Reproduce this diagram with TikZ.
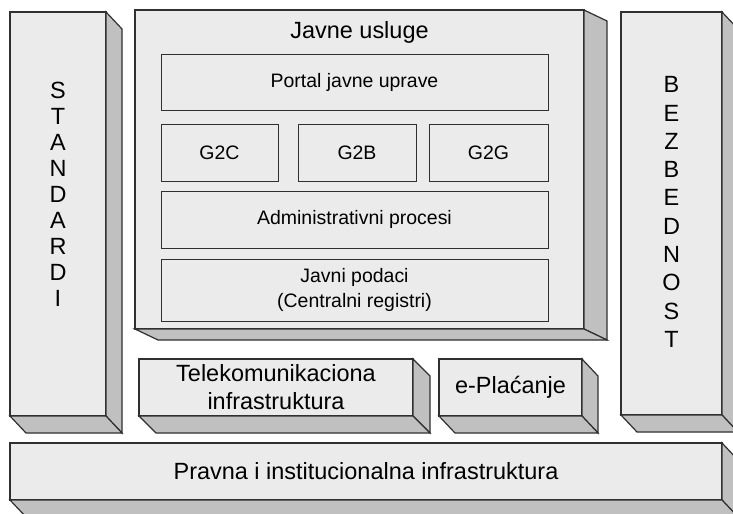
\documentclass[tikz,border=0pt]{standalone}
\usepackage{fontspec}
\setmainfont{Liberation Sans}
\usetikzlibrary{calc}
\definecolor{facecol}{HTML}{EBEBEB}
\definecolor{sidecol}{HTML}{C0C0C0}
\definecolor{edgecol}{HTML}{303030}
\tikzset{
  front/.style={draw=edgecol, fill=facecol, line width=0.9pt, inner sep=0pt, outer sep=0pt, anchor=north west, align=center},
  inner/.style={draw=edgecol, fill=facecol, line width=0.75pt, inner sep=0pt, outer sep=0pt, anchor=north west, align=center, font=\fontsize{14.6}{18}\selectfont},
  side/.style={draw=edgecol, fill=sidecol, line width=0.9pt, line join=miter},
  big/.style={font=\fontsize{17.6}{21}\selectfont},
}
% right and bottom faces of a block, extruded by (dx,dy)
\newcommand{\extrude}[3]{%
  \filldraw[side] (#1.north east) -- ++(#2,#3) -- ($(#1.south east)+(#2,#3)$) -- (#1.south east) -- cycle;
  \filldraw[side] (#1.south west) -- (#1.south east) -- ($(#1.south east)+(#2,#3)$) -- ($(#1.south west)+(#2,#3)$) -- cycle;}
\begin{document}
\begin{tikzpicture}[x=0.75pt,y=-0.75pt]
\useasboundingbox (0,0) rectangle (733,514);
\begin{scope}
\clip (0,0) rectangle (733,514);
\fill[white] (0,0) rectangle (733,514);

% Pravna i institucionalna infrastruktura
\node[front,big,minimum width=712*0.75pt,minimum height=57*0.75pt] (pravna) at (10,443) {Pravna i institucionalna infrastruktura};
\extrude{pravna}{16}{17}

% Standardi
\node[front,minimum width=96*0.75pt,minimum height=404*0.75pt] (std) at (10,12) {};
\extrude{std}{16}{17}
\node[align=center,inner sep=0pt,font=\fontsize{17.6}{19.5}\selectfont] (stdtxt) at (58,194) {S\\T\\A\\N\\D\\A\\R\\D\\I};

% Bezbednost
\node[front,minimum width=101*0.75pt,minimum height=403*0.75pt] (bez) at (621,12) {};
\extrude{bez}{16}{17}
\node[align=center,inner sep=0pt,font=\fontsize{17.6}{21.2}\selectfont] (beztxt) at (671.5,212) {B\\E\\Z\\B\\E\\D\\N\\O\\S\\T};

% Javne usluge
\node[front,minimum width=449*0.75pt,minimum height=319*0.75pt] (ju) at (135,10) {};
\extrude{ju}{23}{11}
\node[big,inner sep=0pt] (jutitle) at (359.5,32) {Javne usluge};

\node[inner,minimum width=387*0.75pt,minimum height=56*0.75pt] (portal) at (161,54) {Portal javne uprave};
\node[inner,minimum width=117*0.75pt,minimum height=57*0.75pt] (g2c) at (161,124) {G2C};
\node[inner,minimum width=118*0.75pt,minimum height=57*0.75pt] (g2b) at (298,124) {G2B};
\node[inner,minimum width=119*0.75pt,minimum height=57*0.75pt] (g2g) at (429,124) {G2G};
\node[inner,minimum width=387*0.75pt,minimum height=57*0.75pt] (admin) at (161,191) {Administrativni procesi};
\node[inner,minimum width=387*0.75pt,minimum height=62*0.75pt,font=\fontsize{14.6}{18.5}\selectfont] (podaci) at (161,259) {Javni podaci\\(Centralni registri)};

% Telekomunikaciona infrastruktura
\node[front,big,minimum width=274*0.75pt,minimum height=57*0.75pt] (tele) at (139,359) {Telekomunikaciona\\infrastruktura};
\extrude{tele}{17}{17}

% e-Placanje
\node[front,big,minimum width=143*0.75pt,minimum height=57*0.75pt] (epl) at (439,359) {e-Plaćanje};
\extrude{epl}{16}{17}
\end{scope}
\end{tikzpicture}
\end{document}
